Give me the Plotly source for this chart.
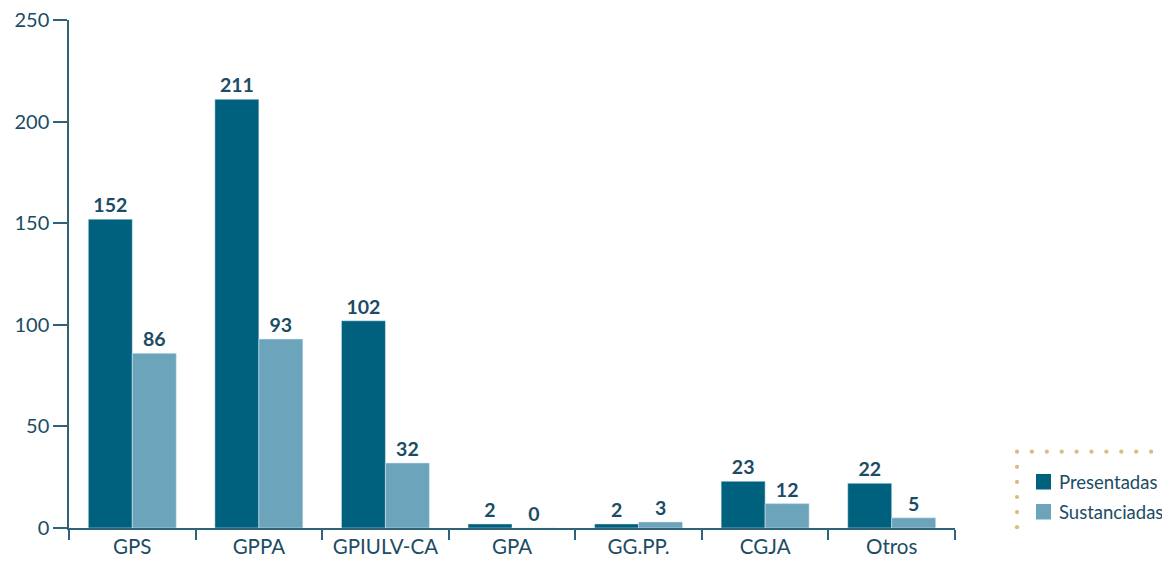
import plotly.graph_objects as go

categories = ["GPS", "GPPA", "GPIULV-CA", "GPA", "GG.PP.", "CGJA", "Otros"]
presentadas = [152, 211, 102, 2, 2, 23, 22]
sustanciadas = [86, 93, 32, 0, 3, 12, 5]
y_ticks = [0, 50, 100, 150, 200, 250]
series_names = ["Presentadas", "Sustanciadas"]

C_DARK = "#00617f"
C_LIGHT = "#6ba4bb"
TXT = "#1b4c64"
AXIS = "#2e6378"
FONT = "Lato"

# the page body has an 8px margin; size the figure so it fills the 1170x562 window
OFF = 8
W, H = 1170 - OFF, 562 - OFF
ml, mt = 69 - OFF, 20 - OFF
mr = W - (955 - OFF)
mb = H - (528 - OFF)
pw, ph = W - ml - mr, H - mt - mb


def px_x(x):
    return (x - OFF - ml) / pw


def px_y(y):
    return (H - mb - (y - OFF)) / ph


fig = go.Figure()
for name, vals, col in [(series_names[0], presentadas, C_DARK), (series_names[1], sustanciadas, C_LIGHT)]:
    fig.add_trace(go.Bar(name=name, x=categories, y=vals, marker_color=col,
                         text=vals, textposition="outside", cliponaxis=False,
                         textfont=dict(family=FONT, size=19.5, color=TXT, weight="bold")))

shapes = []
annotations = []
# dotted legend frame (decorative)
dot_color = "#d6bd80"
r = 2.1
x0, y0 = 1017, 451.7
for i in range(11):
    cx = x0 + i * 14.9
    shapes.append(dict(type="circle", xref="paper", yref="paper",
                       x0=px_x(cx - r), x1=px_x(cx + r), y0=px_y(y0 + r), y1=px_y(y0 - r),
                       fillcolor=dot_color, line_width=0))
for j in range(1, 6):
    cy = y0 + j * 15.1
    shapes.append(dict(type="circle", xref="paper", yref="paper",
                       x0=px_x(x0 - r), x1=px_x(x0 + r), y0=px_y(cy + r), y1=px_y(cy - r),
                       fillcolor=dot_color, line_width=0))

# manual legend
for k, (name, col) in enumerate([(series_names[0], C_DARK), (series_names[1], C_LIGHT)]):
    top = 474 + k * 30
    shapes.append(dict(type="rect", xref="paper", yref="paper",
                       x0=px_x(1036), x1=px_x(1051), y0=px_y(top + 15.5), y1=px_y(top),
                       fillcolor=col, line_width=0))
    annotations.append(dict(xref="paper", yref="paper", x=px_x(1057), y=px_y(top + 8),
                            xanchor="left", yanchor="middle", text=name, showarrow=False,
                            font=dict(family=FONT, size=18.5, color=TXT)))

fig.update_layout(
    width=W, height=H,
    margin=dict(l=ml, r=mr, t=mt, b=mb, autoexpand=False),
    plot_bgcolor="white", paper_bgcolor="white",
    barmode="group", bargap=0.305, bargroupgap=0,
    font=dict(family=FONT, color=TXT, size=20),
    showlegend=False,
    shapes=shapes,
    annotations=annotations,
    xaxis=dict(showline=True, linecolor=AXIS, linewidth=1.5, ticks="outside", tickson="boundaries",
               ticklen=10, tickcolor=AXIS, tickwidth=1.5, showgrid=False, automargin=False,
               ticklabeloverflow="allow",
               tickfont=dict(family=FONT, size=20.5, color=TXT)),
    yaxis=dict(range=[0, 250], tickvals=y_ticks, showline=True, linecolor=AXIS, linewidth=1.5,
               ticks="outside", ticklen=14, tickcolor=AXIS, tickwidth=1.5, showgrid=False,
               zeroline=False, automargin=False, ticklabeloverflow="allow",
               tickfont=dict(family=FONT, size=20, color=TXT)),
)

fig.write_html("out.html")
